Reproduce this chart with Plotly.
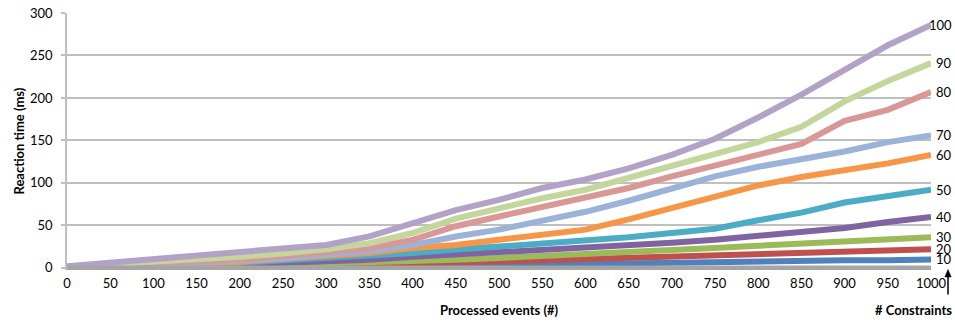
import plotly.graph_objects as go

# ---- data ----
events = [0, 50, 100, 150, 200, 250, 300, 350, 400, 450, 500,
          550, 600, 650, 700, 750, 800, 850, 900, 950, 1000]

constraints = ["10", "20", "30", "40", "50", "60", "70", "80", "90", "100"]

s10 = [0.1, 0.3, 0.6, 0.9, 1.2, 1.5, 1.8, 2.0, 2.4, 2.7, 3.0, 3.5, 4.5, 5.5, 6.0, 7.0, 7.5, 8.5, 9.0, 9.0, 10.0]
s20 = [0.2, 0.5, 1.0, 1.5, 2.0, 3.0, 3.5, 4.2, 5.0, 6.0, 7.7, 9.0, 10.5, 12.0, 13.5, 15.0, 16.5, 17.5, 18.5, 19.5, 22.0]
s30 = [0.2, 0.6, 1.2, 2.0, 3.0, 4.0, 5.0, 6.0, 7.7, 9.7, 11.7, 14.4, 17.0, 19.0, 21.0, 23.5, 26.0, 28.5, 31.0, 32.5, 36.0]
s40 = [0.3, 1.0, 2.0, 3.0, 4.5, 6.0, 7.7, 9.7, 13.0, 15.6, 17.6, 21.5, 23.5, 26.0, 29.5, 33.0, 38.0, 42.0, 47.0, 54.0, 60.0]
s50 = [0.5, 1.2, 2.5, 4.0, 6.0, 9.0, 11.7, 13.6, 17.6, 21.5, 25.0, 29.0, 33.0, 36.0, 41.0, 46.0, 56.0, 65.0, 77.0, 84.0, 92.0]
s60 = [0.5, 1.5, 3.0, 5.0, 7.0, 10.0, 13.6, 17.6, 23.5, 27.0, 33.0, 39.0, 45.0, 57.0, 70.0, 84.0, 97.0, 107.0, 115.0, 123.0, 133.0]
s70 = [1.0, 2.0, 4.0, 6.0, 8.0, 11.0, 15.6, 19.5, 27.0, 37.0, 45.0, 54.7, 66.0, 79.0, 94.0, 107.7, 119.0, 128.0, 137.0, 148.0, 156.0]
s80 = [1.0, 3.0, 5.0, 8.0, 10.0, 14.0, 19.5, 23.5, 33.0, 49.0, 60.5, 72.0, 84.0, 94.0, 107.7, 120.0, 132.7, 146.0, 173.0, 186.0, 207.0]
s90 = [1.5, 4.0, 7.0, 10.0, 13.0, 17.0, 22.0, 29.0, 41.0, 58.0, 70.0, 82.0, 92.0, 106.0, 121.0, 134.6, 148.0, 166.0, 196.0, 220.0, 241.0]
s100 = [2.0, 6.0, 10.0, 14.0, 19.0, 23.0, 27.0, 37.0, 53.0, 68.0, 80.0, 94.0, 104.0, 117.0, 133.0, 152.0, 177.0, 204.0, 233.0, 262.0, 286.0]
baseline = [0] * len(events)

series = [s10, s20, s30, s40, s50, s60, s70, s80, s90, s100]
colors = ["#4F81BD", "#C0504D", "#9BBB59", "#8064A2", "#4BACC6",
          "#F79646", "#9BB3D8", "#D99795", "#C3D69B", "#B3A2C7"]

y_ticks = [0, 50, 100, 150, 200, 250, 300]
x_ticks = events

FONT = "Lato"
GRID = "#BFBFBF"

fig = go.Figure()
for name, vals, col in zip(constraints, series, colors):
    fig.add_trace(go.Scatter(x=events, y=vals, mode="lines", name=name,
                             line=dict(color=col, width=6), hoverinfo="skip"))
fig.add_trace(go.Scatter(x=events, y=baseline, mode="lines", name="0",
                         line=dict(color="#A5A5A5", width=5), hoverinfo="skip"))

annotations = []
for name, vals in zip(constraints, series):
    annotations.append(dict(x=1.0266, xref="paper", y=vals[-1], yref="y",
                            text=name, showarrow=False, xanchor="right",
                            yanchor="middle",
                            font=dict(family=FONT, size=13, color="#000")))

annotations += [
    dict(x=0.5, xref="paper", y=-0.155, yref="paper", text="Processed events (#)",
         showarrow=False, xanchor="center", yanchor="middle",
         font=dict(family=FONT, size=13, color="#000", weight="bold")),
    dict(x=-0.0567, xref="paper", y=0.5, yref="paper", text="Reaction time (ms)",
         showarrow=False, textangle=-90, xanchor="center", yanchor="middle",
         font=dict(family=FONT, size=13, color="#000", weight="bold")),
    dict(x=1.0266, xref="paper", y=-0.155, yref="paper", text="# Constraints",
         showarrow=False, xanchor="right", yanchor="middle",
         font=dict(family=FONT, size=13, color="#000", weight="bold")),
]

# arrow under the right-hand labels (paper coordinates, outside the plot area)
shapes = [
    dict(type="line", xref="paper", yref="paper", x0=1.0197, x1=1.0197,
         y0=-0.095, y1=-0.024, line=dict(color="#000", width=1.5)),
    dict(type="path", xref="paper", yref="paper",
         path="M 1.0160 -0.0272 L 1.0234 -0.0272 L 1.0197 0.002 Z",
         fillcolor="#000", line=dict(color="#000", width=0.5)),
]

fig.update_layout(
    width=955, height=322,
    margin=dict(l=67, r=24, t=13, b=52),
    plot_bgcolor="white", paper_bgcolor="white",
    showlegend=False,
    font=dict(family=FONT, size=13, color="#000"),
    annotations=annotations,
    shapes=shapes,
    xaxis=dict(range=[0, 1000], tickvals=x_ticks, showgrid=False,
               zeroline=False, showline=False, ticks="", automargin=False,
               ticklabelstandoff=4, tickfont=dict(family=FONT, size=13)),
    yaxis=dict(range=[-2.5, 300], tickvals=y_ticks, showgrid=True,
               gridcolor=GRID, gridwidth=1.5, zeroline=False, automargin=False,
               showline=True, linecolor=GRID, linewidth=1.5,
               ticks="outside", ticklen=4, tickcolor=GRID, tickwidth=1.5,
               ticklabelstandoff=6, tickfont=dict(family=FONT, size=13)),
)

fig.write_html("out.html", config={"displayModeBar": False},
               post_script="document.body.style.margin='0px';")
